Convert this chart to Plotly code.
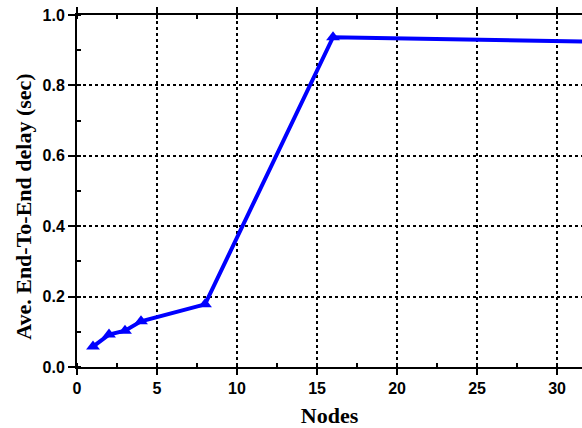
import plotly.graph_objects as go

nodes = [1, 2, 3, 4, 8, 16, 32]
delay = [0.058, 0.092, 0.103, 0.130, 0.178, 0.937, 0.924]
x_ticks = [0, 5, 10, 15, 20, 25, 30]
y_ticks = [0.0, 0.2, 0.4, 0.6, 0.8, 1.0]

fig = go.Figure()
fig.add_trace(go.Scatter(
    x=nodes, y=delay, mode="lines+markers",
    line=dict(color="#0000FF", width=4),
    marker=dict(symbol="triangle-up", size=12, color="#0000FF"),
    showlegend=False,
))

tickfont = dict(family="Liberation Sans, Arial, sans-serif", size=16, color="black")
titlefont = dict(family="Liberation Serif, Times New Roman, serif", size=22, color="black")

fig.update_layout(
    width=582, height=428,
    margin=dict(l=77, r=0, t=15, b=61),
    paper_bgcolor="white", plot_bgcolor="white",
    xaxis=dict(
        range=[0, 31.56], tickvals=x_ticks, ticktext=["<b>%d</b>" % v for v in x_ticks],
        ticks="outside", ticklen=6, tickwidth=1.5, tickcolor="black",
        showline=True, linecolor="black", linewidth=2, mirror="ticks",
        showgrid=True, gridcolor="black", gridwidth=1.5, griddash="3px,3px",
        zeroline=False, automargin=False,
        tickfont=tickfont,
        title=dict(text="<b>Nodes</b>", font=titlefont, standoff=12),
        minor=dict(dtick=2.5, tick0=0, ticks="inside", ticklen=4, tickwidth=1.5,
                   tickcolor="black", showgrid=False),
    ),
    yaxis=dict(
        range=[0, 1.0], tickvals=y_ticks, ticktext=["<b>%.1f</b>" % v for v in y_ticks],
        ticks="outside", ticklen=7, tickwidth=1.5, tickcolor="black",
        showline=True, linecolor="black", linewidth=2, mirror=False,
        showgrid=True, gridcolor="black", gridwidth=1.5, griddash="3px,3px",
        zeroline=False, automargin=False,
        tickfont=tickfont,
        minor=dict(dtick=0.1, tick0=0, ticks="inside", ticklen=4, tickwidth=1.5,
                   tickcolor="black", showgrid=False),
    ),
    annotations=[dict(
        text="<b>Ave. End-To-End delay (sec)</b>", textangle=-90,
        xref="paper", yref="paper", x=-0.105, y=0.455, xanchor="center", yanchor="middle",
        showarrow=False, font=titlefont,
    )],
)

fig.write_html("out.html", config={"displayModeBar": False},
               post_script="document.body.style.margin='0';")
